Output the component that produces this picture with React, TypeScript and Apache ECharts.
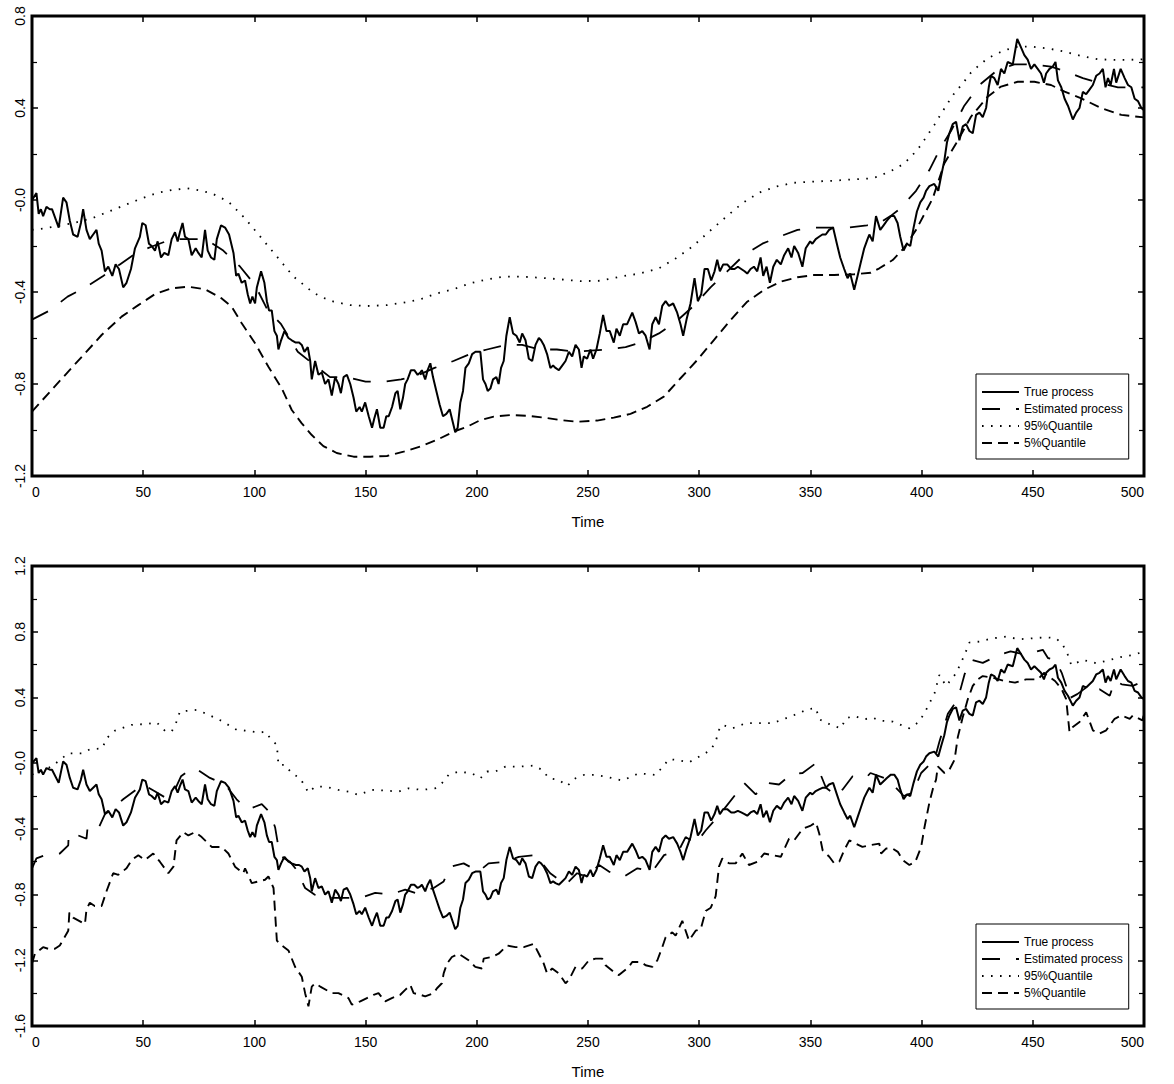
import React, { useEffect, useRef } from "react";
import * as echarts from "echarts";

// ---- shared time axis ----
const timeTicks = [0, 50, 100, 150, 200, 250, 300, 350, 400, 450, 500];

// ---- true process (same path in both panels): [time, value] ----
const trueProcess: [number, number][] = [
  [0, 0.0], [2, 0.03], [3, -0.06], [4, -0.04], [5, -0.07], [6.5, -0.03], [8, -0.04], [9, -0.04], [12, -0.12], [14, 0.01],
  [15.5, -0.01], [17, -0.09], [18.5, -0.15], [20.5, -0.16], [22, -0.1], [23, -0.04], [24.5, -0.13], [26, -0.17], [27.5, -0.15], [29, -0.13],
  [30, -0.19], [31.3, -0.22], [32.8, -0.31], [34.3, -0.29], [36.1, -0.33], [37.6, -0.28], [39.1, -0.3], [41, -0.38], [42.5, -0.36], [44.5, -0.3],
  [46.3, -0.21], [48.5, -0.16], [49.6, -0.1], [51.1, -0.11], [52.6, -0.19], [53.8, -0.2], [55.3, -0.22], [56.5, -0.18], [58, -0.25], [59.5, -0.23],
  [61.3, -0.24], [62.8, -0.17], [64.3, -0.14], [65.5, -0.18], [66.5, -0.14], [67.7, -0.1], [68.8, -0.16], [70.3, -0.17], [71.8, -0.24], [73.6, -0.21],
  [74.8, -0.23], [76.3, -0.25], [77.8, -0.13], [79, -0.22], [80.5, -0.25], [82, -0.26], [83.1, -0.17], [85, -0.11], [86.8, -0.12], [88.6, -0.15],
  [90.6, -0.23], [91.8, -0.33], [92.8, -0.32], [94.3, -0.36], [95.8, -0.35], [97, -0.41], [98.1, -0.45], [99.1, -0.42], [100.3, -0.45], [101.1, -0.38],
  [103, -0.31], [104.5, -0.36], [105.6, -0.44], [106.6, -0.48], [107.8, -0.48], [109, -0.57], [110.1, -0.59], [110.8, -0.65], [112, -0.61], [113.5, -0.57],
  [115.3, -0.6], [116.8, -0.61], [118.6, -0.62], [120.1, -0.62], [121.3, -0.63], [122.5, -0.66], [124, -0.64], [125.1, -0.7], [125.8, -0.78], [127.3, -0.7],
  [128.8, -0.76], [130.3, -0.75], [131.8, -0.8], [133.3, -0.78], [134.8, -0.85], [136.3, -0.77], [137.8, -0.8], [138.9, -0.84], [140.1, -0.77], [141.6, -0.76],
  [143.1, -0.8], [144.6, -0.86], [145.8, -0.92], [147.3, -0.9], [148.3, -0.92], [149.8, -0.88], [151.4, -0.94], [152.9, -0.99], [153.9, -0.95], [155.1, -0.91],
  [156.6, -0.99], [158.1, -0.99], [159.3, -0.94], [160.4, -0.94], [161.9, -0.9], [163.4, -0.84], [164.4, -0.83], [165.6, -0.91], [166.8, -0.86], [167.8, -0.8],
  [168.9, -0.78], [170.4, -0.74], [171.9, -0.74], [173.4, -0.76], [174.6, -0.75], [175.3, -0.74], [176.8, -0.78], [177.9, -0.74], [179.1, -0.71], [180.3, -0.77],
  [181.8, -0.83], [183.3, -0.89], [184.8, -0.94], [186.3, -0.93], [187.8, -0.91], [189.3, -0.97], [190.3, -1.01], [191.4, -0.99], [192.6, -0.88], [193.8, -0.83],
  [194.9, -0.73], [196.4, -0.71], [197.9, -0.67], [199.4, -0.66], [201.6, -0.66], [202.8, -0.78], [203.9, -0.8], [204.9, -0.83], [206.1, -0.82], [207.3, -0.78],
  [208.8, -0.77], [209.8, -0.8], [210.9, -0.73], [212.1, -0.7], [213.3, -0.59], [214.8, -0.51], [216.3, -0.58], [217.8, -0.59], [219.3, -0.62], [220.4, -0.58],
  [221.9, -0.61], [223.4, -0.69], [224.9, -0.7], [226.4, -0.63], [227.9, -0.6], [228.9, -0.61], [230.1, -0.63], [231.6, -0.67], [233.1, -0.73], [234.3, -0.72],
  [235.4, -0.73], [236.9, -0.74], [238.4, -0.72], [239.9, -0.7], [241.4, -0.66], [242.9, -0.68], [244.4, -0.63], [245.9, -0.65], [247.1, -0.73], [248.1, -0.68],
  [249.6, -0.69], [251.1, -0.65], [252.3, -0.69], [253.8, -0.65], [255.3, -0.58], [256.8, -0.5], [258.3, -0.57], [259.8, -0.57], [261.6, -0.62], [262.8, -0.56],
  [264.3, -0.59], [265.8, -0.54], [267.6, -0.54], [269.9, -0.49], [271.4, -0.53], [272.9, -0.58], [274.4, -0.57], [275.9, -0.59], [277.7, -0.65], [278.9, -0.54],
  [280.4, -0.51], [281.9, -0.54], [283.4, -0.46], [284.9, -0.44], [286.4, -0.46], [288.3, -0.45], [290.1, -0.49], [291.6, -0.54], [292.8, -0.59], [294.3, -0.52],
  [296.1, -0.45], [297.9, -0.34], [299.4, -0.44], [300.9, -0.41], [302.4, -0.3], [303.9, -0.3], [305.4, -0.35], [306.9, -0.31], [308.1, -0.26], [309.3, -0.31],
  [310.8, -0.28], [312.6, -0.28], [314.4, -0.3], [315.9, -0.3], [317.4, -0.29], [318.9, -0.3], [320.4, -0.31], [321.6, -0.32], [323.1, -0.3], [324.6, -0.29],
  [326.1, -0.31], [327.6, -0.25], [328.8, -0.33], [330.3, -0.29], [331.8, -0.36], [333.3, -0.29], [334.9, -0.26], [336.7, -0.28], [338.2, -0.24], [340, -0.21],
  [341.5, -0.25], [342.7, -0.2], [344.5, -0.23], [346.4, -0.29], [347.9, -0.21], [349.9, -0.18], [350.9, -0.19], [352.4, -0.17], [353.9, -0.16], [355.4, -0.15],
  [356.9, -0.15], [358.4, -0.13], [360.2, -0.12], [361.9, -0.19], [363.4, -0.25], [365.2, -0.3], [366.7, -0.34], [367.9, -0.32], [369.7, -0.39], [371.2, -0.33],
  [372.7, -0.27], [374.2, -0.21], [375.7, -0.17], [376.5, -0.15], [378, -0.18], [379.5, -0.07], [381.4, -0.13], [382.9, -0.11], [384.4, -0.09], [386.2, -0.07],
  [387.7, -0.07], [389.2, -0.1], [390.4, -0.16], [391.9, -0.22], [393.4, -0.19], [394.9, -0.2], [396.4, -0.12], [397.9, -0.05], [399.4, -0.01], [400.9, 0.01],
  [402, 0.04], [403.5, 0.06], [405.7, 0.07], [407.5, 0.04], [408.7, 0.1], [410.2, 0.17], [411.4, 0.25], [412.5, 0.29], [414, 0.33], [415.5, 0.34],
  [417, 0.26], [418.5, 0.32], [420, 0.33], [421.5, 0.3], [423, 0.29], [424.5, 0.37], [426, 0.38], [427.5, 0.36], [429, 0.4], [430.2, 0.49],
  [431.2, 0.54], [432.7, 0.53], [434.2, 0.5], [435.7, 0.57], [437.2, 0.55], [438.7, 0.6], [441, 0.59], [443, 0.7], [444.4, 0.67], [446.2, 0.63],
  [447.7, 0.61], [449.2, 0.57], [450.7, 0.59], [452.2, 0.57], [453.7, 0.55], [455, 0.51], [456, 0.55], [457.5, 0.57], [459, 0.58], [460.2, 0.6],
  [461.3, 0.52], [462.8, 0.49], [464.3, 0.44], [465.8, 0.41], [468, 0.35], [469.5, 0.38], [471, 0.4], [472.5, 0.47], [474, 0.46], [475.5, 0.48],
  [477, 0.5], [478.5, 0.54], [480, 0.55], [481.5, 0.57], [482.7, 0.49], [483.8, 0.53], [485, 0.5], [486.5, 0.57], [487.5, 0.51], [489.5, 0.57],
  [491.3, 0.53], [492.8, 0.5], [494.3, 0.49], [495.8, 0.44], [497.3, 0.43], [498.8, 0.4], [500, 0.39],
];

// ---- top panel (smoothed estimate) ----
const topEstimated: [number, number][] = [
  [0, -0.52], [8, -0.48], [16, -0.42], [24, -0.38], [32, -0.33], [39.5, -0.28], [47, -0.23], [54.5, -0.2], [63, -0.17], [70, -0.17],
  [78, -0.17], [86, -0.22], [93.6, -0.29], [100.3, -0.37], [106, -0.48], [112, -0.54], [119.5, -0.66], [126, -0.71], [134, -0.77], [141.6, -0.77],
  [150, -0.79], [158, -0.79], [166, -0.78], [174, -0.76], [181, -0.73], [189.5, -0.7], [197, -0.67], [204.6, -0.65], [213, -0.63], [220.4, -0.63],
  [228, -0.65], [236, -0.65], [244, -0.66], [251, -0.655], [258.6, -0.65], [266.9, -0.64], [273.6, -0.62], [281.9, -0.58], [289.4, -0.53], [297.6, -0.46],
  [305.1, -0.38], [312.6, -0.31], [320.1, -0.24], [328.4, -0.19], [335.9, -0.16], [344.2, -0.13], [351.4, -0.12], [359.9, -0.12], [366.7, -0.12], [375.4, -0.11],
  [381, -0.1], [386, -0.07], [390, -0.04], [397.5, 0.04], [403.5, 0.13], [408.7, 0.23], [413.2, 0.3], [419.2, 0.41], [426, 0.5], [433.5, 0.56],
  [441.7, 0.59], [449.2, 0.59], [458.2, 0.58], [464.3, 0.56], [472.5, 0.53], [479.3, 0.51], [488.3, 0.49], [495, 0.49], [500, 0.49],
];
const topQ95: [number, number][] = [
  [0, -0.13], [5.8, -0.123], [11.8, -0.113], [19.3, -0.099], [26.8, -0.08], [34.3, -0.051], [41.8, -0.022], [49.3, 0.007], [56.8, 0.032], [62.8, 0.043],
  [69.5, 0.051], [74.8, 0.043], [80.8, 0.029], [88.3, -0.007], [95.8, -0.08], [103.3, -0.167], [110.8, -0.254], [117.6, -0.333], [126, -0.399], [129.6, -0.42],
  [135.6, -0.442], [143.1, -0.457], [150.6, -0.461], [159.6, -0.457], [167.1, -0.446], [174.6, -0.432], [182.1, -0.406], [189.6, -0.388], [197.1, -0.362], [204.6, -0.345],
  [212.1, -0.333], [219.6, -0.333], [228.6, -0.338], [237.6, -0.345], [246.6, -0.353], [255.6, -0.351], [264.6, -0.333], [273.6, -0.319], [281.9, -0.297], [289.4, -0.254],
  [296.9, -0.203], [304.4, -0.138], [311.9, -0.075], [319.4, -0.014], [326.9, 0.032], [334.4, 0.058], [342.7, 0.075], [351.7, 0.08], [360.7, 0.084], [369.7, 0.09],
  [377.2, 0.094], [380.2, 0.101], [387.7, 0.133], [392.2, 0.159], [396, 0.196], [399.4, 0.235], [402.7, 0.283], [405.7, 0.326], [408.7, 0.374], [411.7, 0.42],
  [414.7, 0.464], [418.5, 0.507], [422.2, 0.554], [426, 0.587], [429.7, 0.616], [434.2, 0.638], [438.7, 0.655], [443.2, 0.667], [449.2, 0.667], [456.7, 0.659],
  [464.3, 0.645], [471.8, 0.626], [479.3, 0.612], [486.8, 0.609], [492.8, 0.609], [500, 0.612],
];
const topQ05: [number, number][] = [
  [0, -0.92], [8.8, -0.826], [16.3, -0.746], [23.8, -0.667], [31.3, -0.587], [40.3, -0.507], [47.8, -0.457], [55.3, -0.409], [62.8, -0.384], [70.3, -0.377],
  [77.8, -0.388], [85.3, -0.428], [89.8, -0.464], [94.3, -0.536], [100.3, -0.623], [106.3, -0.725], [112.3, -0.819], [116.8, -0.913], [121.3, -0.971], [125.8, -1.022],
  [131, -1.07], [137, -1.1], [144.6, -1.116], [152.1, -1.116], [159.6, -1.113], [167.1, -1.094], [174.6, -1.072], [182.1, -1.043], [189.6, -1.007], [195.6, -0.986],
  [201.6, -0.957], [207.6, -0.942], [215.1, -0.935], [222.6, -0.938], [230.1, -0.946], [237.6, -0.957], [245.1, -0.964], [254.1, -0.959], [261.6, -0.946], [269.1, -0.93],
  [276.6, -0.899], [284.1, -0.855], [291.6, -0.775], [299.1, -0.696], [306.6, -0.609], [314.1, -0.522], [321.6, -0.442], [329.1, -0.391], [336.6, -0.355], [344.2, -0.336],
  [351.7, -0.326], [360.7, -0.326], [369.7, -0.323], [377.2, -0.316], [381, -0.297], [387, -0.261], [392, -0.21], [397.5, -0.13], [405, 0.007], [410.2, 0.159],
  [415.5, 0.246], [422.2, 0.362], [429.7, 0.449], [435.7, 0.493], [443.2, 0.514], [450.7, 0.514], [458.2, 0.5], [464.3, 0.471], [471.8, 0.442], [480.8, 0.399],
  [489.8, 0.37], [500, 0.359],
];

// ---- bottom panel (filtered estimate) ----
const botEstimated: [number, number][] = [
  [0, -0.64], [2, -0.58], [5.8, -0.56], [12.5, -0.55], [16.3, -0.5], [16.5, -0.43], [20.8, -0.44], [24.5, -0.46], [25, -0.39], [29.8, -0.4],
  [32.8, -0.31], [36, -0.28], [41, -0.22], [47, -0.16], [50, -0.13], [55, -0.17], [60, -0.21], [64, -0.17], [67, -0.08], [70, -0.05],
  [73.3, -0.03], [80, -0.09], [85, -0.12], [88, -0.15], [92, -0.22], [95, -0.26], [97.4, -0.28], [103.3, -0.25], [107, -0.3], [109.3, -0.39],
  [110.8, -0.51], [112.3, -0.57], [116, -0.6], [119, -0.65], [122.8, -0.76], [127, -0.8], [135, -0.82], [142, -0.82], [147.6, -0.82], [154.3, -0.79],
  [161, -0.8], [167.8, -0.77], [172.3, -0.79], [180.6, -0.76], [185.1, -0.72], [188.1, -0.63], [194.1, -0.61], [200.8, -0.66], [205.3, -0.61], [212.9, -0.6],
  [218.9, -0.57], [226.4, -0.56], [233, -0.67], [239.9, -0.74], [245.1, -0.67], [248.9, -0.69], [253.4, -0.64], [255, -0.62], [259.4, -0.66], [266.2, -0.69],
  [272.2, -0.64], [278.9, -0.66], [284.2, -0.56], [290.9, -0.53], [293.9, -0.45], [298.4, -0.49], [302.9, -0.41], [310, -0.3], [316.4, -0.19], [320.2, -0.12],
  [325.4, -0.19], [330.7, -0.12], [335.9, -0.13], [341.2, -0.07], [346.5, -0.06], [352.5, 0.0], [357, -0.15], [362, -0.2], [364.5, -0.16], [369, -0.08],
  [375, -0.09], [377, -0.06], [385, -0.1], [392, -0.2], [396, -0.18], [399.8, -0.06], [405.8, 0.02], [408, 0.13], [411.8, 0.3], [416.3, 0.39],
  [419.3, 0.54], [422.3, 0.63], [427.5, 0.61], [435, 0.66], [440, 0.68], [447, 0.66], [454.5, 0.69], [456.8, 0.64], [460, 0.63], [463, 0.55],
  [465, 0.47], [465.8, 0.39], [470, 0.42], [474, 0.46], [477, 0.43], [480, 0.45], [484.6, 0.41], [486.8, 0.5], [490, 0.48], [495, 0.47], [500, 0.5],
];
const botQ95: [number, number][] = [
  [0, -0.07], [1.3, -0.062], [8.8, -0.021], [16.3, 0.06], [22.3, 0.06], [26, 0.084], [31.6, 0.09], [33.5, 0.151], [37.3, 0.198], [44.8, 0.233],
  [52.3, 0.239], [56, 0.249], [59.8, 0.196], [62.8, 0.192], [65, 0.253], [66.5, 0.314], [74, 0.324], [77.8, 0.304], [85.3, 0.257], [92.1, 0.202],
  [95.8, 0.198], [102.6, 0.186], [104.8, 0.192], [107.8, 0.141], [110.1, 0.111], [110.8, -0.011], [113.8, -0.011], [116.8, -0.062], [120.6, -0.092], [124.3, -0.179],
  [127.3, -0.143], [131.8, -0.143], [137.8, -0.163], [142.3, -0.173], [146.8, -0.193], [152.8, -0.163], [158.8, -0.167], [164.8, -0.173], [169.3, -0.153], [175.3, -0.163],
  [181.3, -0.153], [184.3, -0.122], [187.3, -0.072], [191.8, -0.051], [197.8, -0.062], [201.6, -0.092], [204.6, -0.051], [208.3, -0.051], [212.9, -0.021], [218.8, -0.021],
  [225.6, -0.015], [229.4, -0.041], [232.4, -0.092], [236.9, -0.102], [240.6, -0.139], [244.4, -0.092], [248.1, -0.072], [253.4, -0.072], [257.9, -0.082], [265.4, -0.106],
  [272.9, -0.062], [280.4, -0.072], [283.4, -0.025], [286.4, 0.024], [290.2, 0.019], [295.4, 0.005], [301.4, 0.05], [305.2, 0.08], [307.4, 0.131], [308.9, 0.202],
  [310.4, 0.233], [314.9, 0.212], [320.9, 0.243], [326.9, 0.243], [332.9, 0.243], [338.9, 0.273], [344.9, 0.304], [348.7, 0.328], [352.5, 0.334], [354, 0.267],
  [359.2, 0.233], [363.7, 0.212], [366, 0.273], [369.7, 0.287], [374.2, 0.267], [378, 0.277], [381, 0.259], [387, 0.253], [394.5, 0.212], [399, 0.253],
  [402, 0.324], [405.8, 0.425], [408, 0.537], [411, 0.47], [415.5, 0.547], [419.3, 0.658], [421.5, 0.734], [426, 0.74], [432, 0.76], [438, 0.77],
  [444, 0.754], [450, 0.76], [456, 0.766], [460.5, 0.76], [463.5, 0.72], [465.8, 0.658], [467.3, 0.597], [472.6, 0.628], [478.6, 0.608], [484.6, 0.628],
  [490.6, 0.649], [495, 0.658], [500, 0.679],
];
const botQ05: [number, number][] = [
  [0, -1.22], [1.3, -1.16], [5, -1.12], [7.3, -1.13], [10.3, -1.13], [12.5, -1.11], [16.3, -1.02], [16.8, -0.91], [18.5, -0.94], [23.8, -0.98],
  [24.5, -0.89], [26, -0.85], [28.2, -0.87], [31.3, -0.87], [33.5, -0.78], [36.5, -0.67], [38.8, -0.68], [42.5, -0.64], [44.8, -0.59], [47.8, -0.56],
  [50.8, -0.59], [54.5, -0.55], [57.5, -0.6], [61.3, -0.67], [63.6, -0.63], [65, -0.47], [68, -0.42], [70.3, -0.44], [73.3, -0.42], [76.3, -0.45],
  [80.8, -0.51], [85.3, -0.51], [88.3, -0.55], [91.3, -0.63], [95, -0.67], [95.8, -0.64], [98.8, -0.73], [104.8, -0.71], [106.3, -0.69], [108.6, -0.76],
  [110.1, -1.08], [112.3, -1.11], [115.3, -1.14], [118.3, -1.24], [121.3, -1.3], [122.8, -1.4], [124.3, -1.48], [125.8, -1.36], [127.3, -1.34], [129.6, -1.36],
  [134.8, -1.4], [137.8, -1.4], [142.3, -1.43], [143.8, -1.47], [147.6, -1.45], [150.6, -1.43], [153.6, -1.41], [155.8, -1.4], [158.8, -1.45], [161.8, -1.43],
  [165.6, -1.41], [167.8, -1.38], [170.1, -1.35], [171.6, -1.4], [174.6, -1.41], [176.8, -1.42], [180.6, -1.4], [182.1, -1.37], [184.3, -1.34], [185.1, -1.28],
  [186.6, -1.22], [188.8, -1.18], [191.8, -1.16], [194.1, -1.18], [196.3, -1.2], [199.3, -1.24], [202.3, -1.25], [203.1, -1.19], [206.8, -1.18], [209.8, -1.16],
  [213.6, -1.11], [217.4, -1.12], [221.1, -1.12], [225.6, -1.1], [227.9, -1.16], [230.1, -1.22], [231.6, -1.28], [233.9, -1.25], [236.9, -1.28], [239.9, -1.34],
  [241.4, -1.32], [244.4, -1.24], [247.4, -1.25], [250.4, -1.2], [253.4, -1.19], [256.4, -1.19], [257.9, -1.23], [262.4, -1.28], [263.9, -1.29], [268.4, -1.24],
  [269.9, -1.21], [273.7, -1.21], [275.9, -1.23], [278.9, -1.24], [281.2, -1.2], [283.4, -1.12], [284.9, -1.06], [287.9, -1.03], [289.4, -1.05], [292.4, -0.96],
  [295.4, -1.08], [298.4, -1.02], [300.7, -1.01], [302.9, -0.9], [305.2, -0.88], [307.4, -0.81], [308.9, -0.63], [310.4, -0.58], [313.4, -0.61], [316.4, -0.61],
  [319.4, -0.55], [322.4, -0.62], [326.2, -0.6], [329.2, -0.55], [332.9, -0.56], [336.7, -0.57], [340.4, -0.46], [342.7, -0.47], [346.5, -0.4], [350.2, -0.38],
  [352.5, -0.36], [354, -0.43], [355.5, -0.53], [358.5, -0.57], [360.7, -0.61], [363, -0.6], [365.2, -0.53], [367.5, -0.47], [369, -0.48], [373.4, -0.51],
  [376.5, -0.5], [381, -0.49], [381.8, -0.55], [384, -0.52], [387, -0.52], [389.3, -0.54], [391.5, -0.59], [394.5, -0.62], [397.2, -0.6], [399.8, -0.51],
  [401.3, -0.39], [403.5, -0.24], [405, -0.16], [406.5, -0.1], [407.3, -0.02], [410.3, -0.06], [412.5, -0.04], [414.8, 0.02], [416.3, 0.16], [418.5, 0.28],
  [420.8, 0.39], [423, 0.47], [425.3, 0.51], [427.5, 0.53], [432, 0.52], [437.3, 0.5], [442, 0.49], [447, 0.51], [452.3, 0.51], [455, 0.55],
  [460, 0.5], [463, 0.45], [465, 0.39], [466.5, 0.19], [468, 0.22], [471, 0.25], [474, 0.31], [477, 0.2], [480, 0.18], [483, 0.2],
  [486.8, 0.27], [489.8, 0.29], [493.6, 0.27], [495, 0.29], [499.3, 0.26], [500, 0.3],
];

const seriesNames = ["True process", "Estimated process", "95%Quantile", "5%Quantile"];
const topRange = { min: -1.2, max: 0.8 };
const bottomRange = { min: -1.6, max: 1.2 };
const yStep = 0.4;

const FONT = '"Liberation Sans", Arial, Helvetica, sans-serif';

function fmtY(v: number): string {
  if (Math.abs(v) < 1e-9) return "-0.0";
  return v.toFixed(1);
}

export default function App() {
  const ref = useRef<HTMLDivElement>(null);
  useEffect(() => {
    if (!ref.current) return;
    const chart = echarts.init(ref.current, null, { renderer: "svg" });

    const tickStyle = { show: true, inside: true, length: 6, lineStyle: { color: "#000", width: 1.5 } };
    const minorStyle = { show: true, splitNumber: 2, length: 5, lineStyle: { color: "#000", width: 1.2 } };

    const xMain = (gridIndex: number) => ({
      type: "value" as const,
      gridIndex,
      position: "bottom" as const,
      min: timeTicks[0],
      max: timeTicks[timeTicks.length - 1],
      interval: timeTicks[1] - timeTicks[0],
      axisLine: { show: false, onZero: false },
      axisTick: tickStyle,
      splitLine: { show: false },
      axisLabel: {
        show: true, margin: 9, fontSize: 14, color: "#000", fontFamily: FONT,
        alignMinLabel: "left", alignMaxLabel: "right",
      },
      name: "Time",
      nameLocation: "middle" as const,
      nameGap: 38,
      nameTextStyle: { fontSize: 15, color: "#000", fontFamily: FONT },
    });
    const xTop = (gridIndex: number) => ({
      type: "value" as const,
      gridIndex,
      position: "top" as const,
      min: timeTicks[0],
      max: timeTicks[timeTicks.length - 1],
      interval: timeTicks[1] - timeTicks[0],
      axisLine: { show: false, onZero: false },
      axisTick: tickStyle,
      splitLine: { show: false },
      axisLabel: { show: false },
    });
    const yMain = (gridIndex: number, r: { min: number; max: number }) => ({
      type: "value" as const,
      gridIndex,
      position: "left" as const,
      min: r.min,
      max: r.max,
      interval: yStep,
      axisLine: { show: false, onZero: false },
      axisTick: tickStyle,
      minorTick: minorStyle,
      splitLine: { show: false },
      minorSplitLine: { show: false },
      axisLabel: { show: true, rotate: 90, margin: 5, fontSize: 14, color: "#000", fontFamily: FONT, formatter: fmtY },
    });
    const yRight = (gridIndex: number, r: { min: number; max: number }) => ({
      type: "value" as const,
      gridIndex,
      position: "right" as const,
      min: r.min,
      max: r.max,
      interval: yStep,
      axisLine: { show: false, onZero: false },
      axisTick: tickStyle,
      minorTick: minorStyle,
      splitLine: { show: false },
      minorSplitLine: { show: false },
      axisLabel: { show: false },
    });

    const common = { type: "line", symbol: "none", showSymbol: false, itemStyle: { color: "#000" } };
    const mkSeries = (gi: number, est: any, q95: any, q05: any) => [
      {
        ...common, name: seriesNames[2], xAxisIndex: gi * 2, yAxisIndex: gi * 2, data: q95, z: 2,
        lineStyle: { color: "#000", width: 1.8, type: [1.6, 7.4] },
      },
      {
        ...common, name: seriesNames[3], xAxisIndex: gi * 2, yAxisIndex: gi * 2, data: q05, z: 2,
        lineStyle: { color: "#000", width: 1.9, type: [10, 6] },
      },
      {
        ...common, name: seriesNames[1], xAxisIndex: gi * 2, yAxisIndex: gi * 2, data: est, z: 3,
        lineStyle: { color: "#000", width: 1.8, type: [18, 16] },
      },
      {
        ...common, name: seriesNames[0], xAxisIndex: gi * 2, yAxisIndex: gi * 2, data: trueProcess, z: 4,
        lineStyle: { color: "#000", width: 2 },
      },
    ];

    const legendFor = (top: number) => ({
      show: true,
      data: seriesNames,
      orient: "vertical" as const,
      left: 976,
      top,
      itemWidth: 37,
      itemHeight: 12,
      itemGap: 5,
      padding: [12, 6, 10, 5],
      backgroundColor: "#fff",
      borderColor: "#000",
      borderWidth: 1,
      borderRadius: 0,
      selectedMode: false,
      itemStyle: { opacity: 0, borderWidth: 0 },
      lineStyle: { color: "#000" },
      textStyle: { fontSize: 12, color: "#000", fontFamily: FONT },
    });

    chart.setOption({
      animation: false,
      backgroundColor: "#fff",
      grid: [
        { left: 32, right: 30, top: 16, height: 460, show: true, borderColor: "#000", borderWidth: 3, backgroundColor: "transparent" },
        { left: 32, right: 30, top: 566, height: 460, show: true, borderColor: "#000", borderWidth: 3, backgroundColor: "transparent" },
      ],
      xAxis: [xMain(0), xTop(0), xMain(1), xTop(1)],
      yAxis: [yMain(0, topRange), yRight(0, topRange), yMain(1, bottomRange), yRight(1, bottomRange)],
      legend: [legendFor(374), legendFor(924)],
      series: [
        ...mkSeries(0, topEstimated, topQ95, topQ05),
        ...mkSeries(1, botEstimated, botQ95, botQ05),
      ],
    });
    return () => chart.dispose();
  }, []);

  return (
    <div
      ref={ref}
      style={{ position: "absolute", left: 0, top: 0, width: 1174, height: 1084, background: "#fff" }}
    />
  );
}
